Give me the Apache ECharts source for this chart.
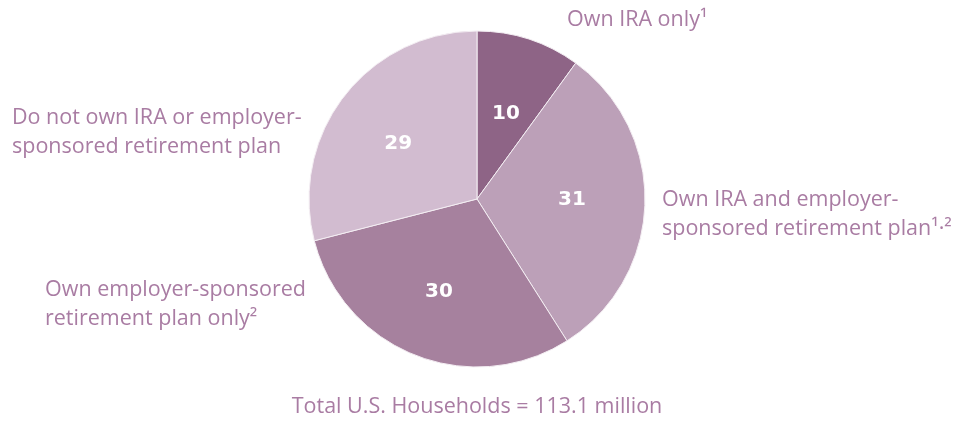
<!DOCTYPE html>
<html>
<head>
<meta charset="utf-8">
<script src="https://cdn.jsdelivr.net/npm/echarts@6/dist/echarts.min.js"></script>
<style>
  html, body { margin: 0; padding: 0; background: #fff; }
  #chart { width: 953px; height: 425px; }
</style>
</head>
<body>
<div id="chart"></div>
<script>
// slices, clockwise from 12 o'clock
const sliceNames = [
  "Own IRA only¹",
  "Own IRA and employer-\nsponsored retirement plan¹·²",
  "Own employer-sponsored\nretirement plan only²",
  "Do not own IRA or employer-\nsponsored retirement plan",
];
const sliceValues = [10, 31, 30, 29];
const sliceColors = ["#8e6486", "#bca0b8", "#a6819e", "#d2bcd0"];
const footNote = "Total U.S. Households = 113.1 million";

const labelColor = "#a97ca3";
const font = "'Open Sans', Lato, sans-serif";

// outer label placement (x, y, align)
const labelSpots = [
  { x: 567, y: 5, align: "left" },
  { x: 662, y: 185, align: "left" },
  { x: 45, y: 275, align: "left" },
  { x: 12, y: 103, align: "left" },
];
// nudges for the numbers inside the slices
const innerNudge = [[2, -2], [8, -2], [-6, 12], [-10, -2]];

const chart = echarts.init(document.getElementById("chart"));

const option = {
  animation: false,
  backgroundColor: "#fff",
  series: [
    {
      type: "pie",
      center: [477, 199],
      radius: 168,
      startAngle: 90,
      clockwise: true,
      data: sliceValues.map((v, i) => ({
        value: v,
        name: sliceNames[i],
        itemStyle: { color: sliceColors[i] },
      })),
      itemStyle: { borderColor: "#f4eef3", borderWidth: 1 },
      label: {
        position: "inside",
        formatter: "{c}",
        color: "#fff",
        fontSize: 20,
        fontWeight: "bold",
        fontFamily: "'DejaVu Sans', sans-serif",
      },
      labelLayout: (p) => ({
        dx: innerNudge[p.dataIndex][0],
        dy: innerNudge[p.dataIndex][1],
      }),
      labelLine: { show: false },
      emphasis: { disabled: true },
    },
  ],
  graphic: sliceNames
    .map((n, i) => ({
      type: "text",
      x: labelSpots[i].x,
      y: labelSpots[i].y,
      style: {
        text: n,
        fill: labelColor,
        font: "21.5px " + font,
        lineHeight: 29,
        align: labelSpots[i].align,
      },
    }))
    .concat([
      {
        type: "text",
        x: 477,
        y: 396,
        style: {
          text: footNote,
          fill: labelColor,
          font: "21.5px " + font,
          align: "center",
        },
      },
    ]),
};

chart.setOption(option);
</script>
</body>
</html>
